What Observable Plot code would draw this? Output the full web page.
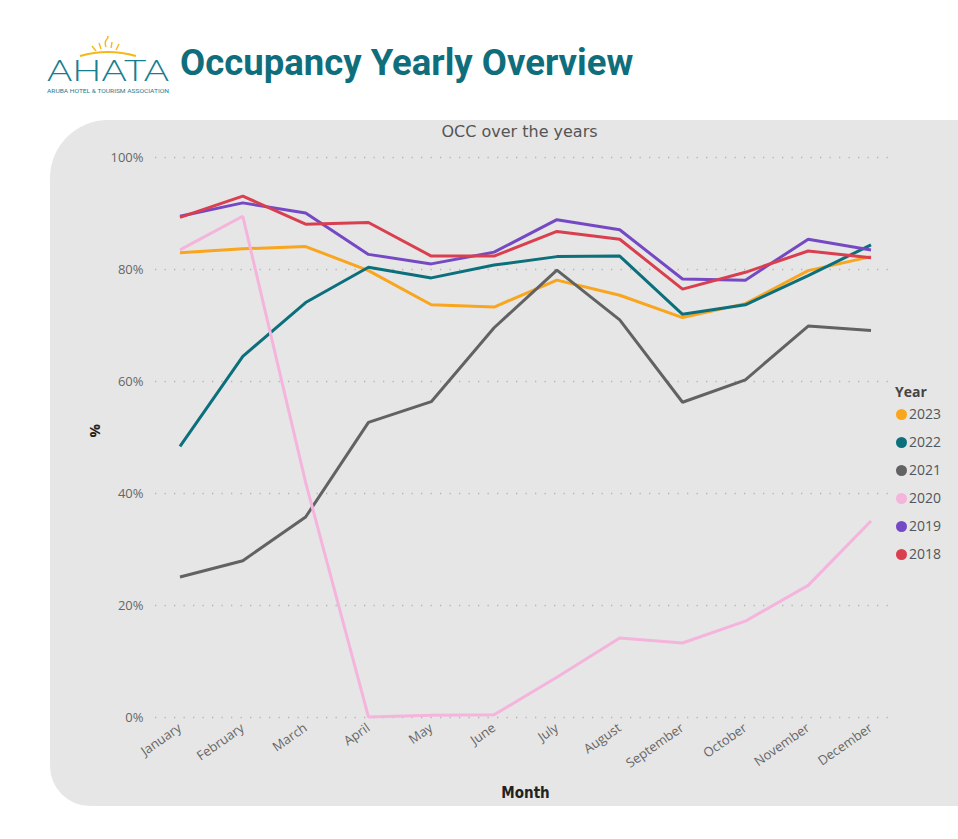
<!DOCTYPE html>
<html>
<head>
<meta charset="utf-8">
<script src="https://cdn.jsdelivr.net/npm/d3@7"></script>
<script src="https://cdn.jsdelivr.net/npm/@observablehq/plot@0.6"></script>
<style>
  html, body { margin: 0; padding: 0; background: #ffffff; width: 958px; height: 839px; overflow: hidden; }
  #page { position: relative; width: 958px; height: 839px; font-family: "Open Sans", sans-serif; }
  #logo { position: absolute; left: 44px; top: 36px; width: 128px; height: 60px; }
  #title { position: absolute; left: 180px; top: 41px; font-family: Roboto, sans-serif; font-weight: 700; font-size: 36.5px; color: #0f6e7c; white-space: nowrap; }
  #panel { position: absolute; left: 50px; top: 120px; width: 920px; height: 686px; background: #e6e6e6; border-radius: 58px 0 0 40px; }
  #chart { position: absolute; left: 0; top: 0; }
  #legend { position: absolute; left: 845px; top: 261px; font-family: "Open Sans", sans-serif; color: #555; }
  #legend .head { font-weight: 700; font-size: 14px; color: #444; height: 19px; line-height: 22px; }
  #legend .item { height: 28px; line-height: 28px; font-size: 14px; display: flex; align-items: center; }
  #legend .sw { width: 11px; height: 11px; border-radius: 50%; margin: 0 2px 0 1px; }
</style>
</head>
<body>
<div id="page">
  <svg id="logo" viewBox="0 0 128 60">
    <path d="M36 20 Q64 12 92 20" fill="none" stroke="#f6b71b" stroke-width="2.2"/>
    <g stroke="#f6b71b" stroke-width="1.4" fill="none">
      <path d="M57 13 L55 7"/><path d="M62 11 Q60 6 63 3 Q65 1 63 -1"/><path d="M67 12 L68 6"/><path d="M72 14 L75 8"/><path d="M52 15 L48 10"/>
    </g>
    <text x="3" y="45" font-family="Lato, sans-serif" font-weight="300" font-size="29" fill="#177e91" textLength="122" lengthAdjust="spacingAndGlyphs">AHATA</text>
    <text x="3" y="57" font-family="Roboto, sans-serif" font-size="5.4" fill="#177e91" textLength="122" lengthAdjust="spacingAndGlyphs">ARUBA HOTEL &amp; TOURISM ASSOCIATION</text>
  </svg>
  <div id="title">Occupancy Yearly Overview</div>
  <div id="panel">
    <div id="chart"></div>
    <div id="legend"></div>
  </div>
</div>
<script>
const months = ["January","February","March","April","May","June","July","August","September","October","November","December"];
const years = ["2023","2022","2021","2020","2019","2018"];
const colors = ["#f9a51e","#0b6f7c","#626262","#f4b4dc","#7549c4","#d93f4f"];
const occ2023 = [83.0, 83.7, 84.1, 79.8, 73.7, 73.3, 78.1, 75.4, 71.4, 73.9, 79.8, 82.3];
const occ2022 = [48.4, 64.5, 74.1, 80.4, 78.5, 80.8, 82.3, 82.4, 72.0, 73.7, 78.9, 84.4];
const occ2021 = [25.1, 28.0, 35.8, 52.7, 56.4, 69.6, 79.9, 71.0, 56.3, 60.3, 69.9, 69.1];
const occ2020 = [83.5, 89.5, 42.0, 0.1, 0.4, 0.5, 7.2, 14.2, 13.3, 17.2, 23.6, 35.1];
const occ2019 = [89.5, 91.9, 90.1, 82.7, 81.0, 83.1, 88.9, 87.1, 78.3, 78.1, 85.4, 83.5];
const occ2018 = [89.3, 93.1, 88.1, 88.4, 82.4, 82.4, 86.8, 85.4, 76.5, 79.5, 83.3, 82.1];
const yTicks = [0, 20, 40, 60, 80, 100];

const series = [occ2023, occ2022, occ2021, occ2020, occ2019, occ2018];
const rows = [];
series.forEach((vals, i) => vals.forEach((v, j) => rows.push({year: years[i], month: months[j], occ: v})));

const chart = Plot.plot({
  width: 908,
  height: 686,
  marginLeft: 105,
  marginRight: 63,
  marginTop: 37,
  marginBottom: 89,
  style: {background: "transparent", fontFamily: "Open Sans, sans-serif", fontSize: "13px", color: "#666", overflow: "visible"},
  x: {type: "point", domain: months, padding: 0.39, round: false, tickSize: 0, tickPadding: 9, tickRotate: -35, label: null},
  y: {domain: [0, 100], ticks: yTicks, tickFormat: d => d + "%", tickSize: 0, tickPadding: 12, label: null},
  color: {domain: years, range: colors},
  marks: [
    Plot.ruleY(yTicks, {stroke: "#b5b5b5", strokeWidth: 1.3, strokeDasharray: "1.3,8.2"}),
    Plot.line(rows, {x: "month", y: "occ", z: "year", stroke: "year", strokeWidth: 3, strokeLinejoin: "miter", strokeLinecap: "butt"}),
    Plot.text(["OCC over the years"], {frameAnchor: "top", dx: -6, dy: -32, fontSize: 16, fill: "#555", fontFamily: "DejaVu Sans, sans-serif", fontWeight: 400}),
    Plot.text(["Month"], {frameAnchor: "bottom", dy: 80, fontSize: 15, fill: "#222", fontWeight: 600, fontFamily: "DejaVu Sans Condensed, DejaVu Sans, sans-serif"}),
    Plot.text(["%"], {frameAnchor: "left", dx: -60, rotate: -90, fontSize: 15, fill: "#222", fontWeight: 700})
  ]
});
document.getElementById("chart").appendChild(chart);

const legend = document.getElementById("legend");
const head = document.createElement("div");
head.className = "head";
head.textContent = "Year";
legend.appendChild(head);
years.forEach((y, i) => {
  const it = document.createElement("div");
  it.className = "item";
  const sw = document.createElement("span");
  sw.className = "sw";
  sw.style.background = colors[i];
  const tx = document.createElement("span");
  tx.textContent = y;
  it.appendChild(sw);
  it.appendChild(tx);
  legend.appendChild(it);
});
</script>
</body>
</html>
